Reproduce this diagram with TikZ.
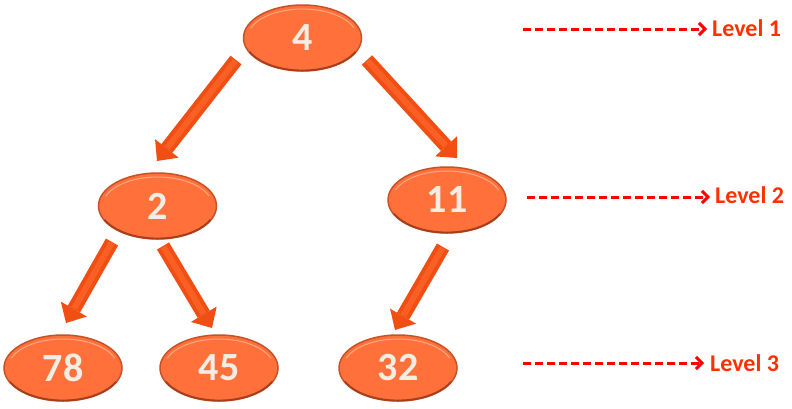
\documentclass[tikz,border=0pt]{standalone}
\usepackage{fontspec}
\setmainfont{Carlito}
\usetikzlibrary{shapes.geometric,arrows.meta}
\definecolor{nodefill}{RGB}{255,112,58}
\definecolor{nodeedge}{RGB}{200,82,38}
\definecolor{nodedark}{RGB}{165,62,28}
\definecolor{nodehl}{RGB}{255,170,130}
\definecolor{nodetxt}{RGB}{242,238,228}
\definecolor{arrowc}{RGB}{240,78,18}
\definecolor{arrowhl}{RGB}{250,96,36}
\definecolor{dashc}{RGB}{255,0,0}
\definecolor{lvltxt}{RGB}{255,48,0}
\begin{document}
\begin{tikzpicture}[x=1pt,y=-1pt,
  treenode/.style={ellipse, fill=nodefill, draw=nodeedge, line width=1.5pt,
    minimum width=118pt, minimum height=66pt, inner sep=0pt, text=nodetxt,
    font=\fontsize{40}{40}\selectfont\bfseries},
  blockarrow/.style={draw=arrowc, line width=14pt,
    -{Triangle[length=16pt 0, width=30pt 0, line width=0pt]}},
  arrowface/.style={draw=arrowhl, line width=6pt, shorten >=17pt, shorten <=1pt},
  levelline/.style={draw=dashc, line width=3pt, dash pattern=on 8pt off 4pt,
    -{Straight Barb[length=6pt, width=12pt]}},
  levellabel/.style={text=lvltxt, font=\fontsize{24}{24}\selectfont\bfseries,
    inner sep=0pt, anchor=base west}]
\useasboundingbox (0,0) rectangle (792,408);

% tree nodes
\node[treenode] (n4)  at (302.5,38) {4};
\node[treenode] (n2)  at (157.5,206) {2};
\node[treenode] (n11) at (447,200) {11};
\node[treenode] (n78) at (63,368) {78};
\node[treenode] (n45) at (219,368) {45};
\node[treenode] (n32) at (398,368) {32};

% bevel highlights on the ellipses
\foreach \n in {n4,n2,n11,n78,n45,n32}{
  \draw[nodehl, line width=1pt] (\n.center) ++(160:55pt and 29pt)
    arc[start angle=160, end angle=20, x radius=55pt, y radius=29pt];
  \draw[nodedark, line width=1.8pt] (\n.center) ++(205:58.5pt and 32.5pt)
    arc[start angle=205, end angle=335, x radius=58.5pt, y radius=32.5pt];
}

% arrow end points
\coordinate (t1) at (236,60);  \coordinate (h1) at (157,161);
\coordinate (t2) at (367,60);  \coordinate (h2) at (457,158);
\coordinate (t3) at (112,242); \coordinate (h3) at (66,323);
\coordinate (t4) at (163,246); \coordinate (h4) at (212,328);
\coordinate (t5) at (443,247); \coordinate (h5) at (395,330);

% block arrows
\foreach \i in {1,...,5}{
  \draw[blockarrow] (t\i) -- (h\i);
  \draw[arrowface] (t\i) -- (h\i);
}

% level labels
\node[levellabel] (lab1) at (712,36) {Level 1};
\node[levellabel] (lab2) at (715,203) {Level 2};
\node[levellabel] (lab3) at (710,371) {Level 3};

\coordinate (s1) at (523,29);
\coordinate (s2) at (527,197);
\coordinate (s3) at (523,363);
\coordinate (e1) at (707,29);
\coordinate (e2) at (710,197);
\coordinate (e3) at (704,363);
\draw[levelline] (s1) -- (e1);
\draw[levelline] (s2) -- (e2);
\draw[levelline] (s3) -- (e3);
\end{tikzpicture}
\end{document}
